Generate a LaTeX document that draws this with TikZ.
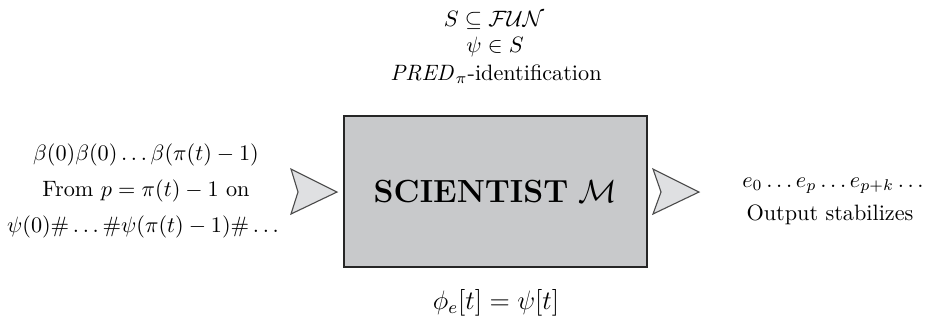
\documentclass[tikz,border=0pt]{standalone}
\usepackage{amssymb}
\begin{document}
\begin{tikzpicture}[x=0.45pt,y=-0.45pt,
  txt/.style={inner sep=0pt,anchor=center},
  arrowshape/.style={draw=black!70,fill=arrowgray,line width=0.5pt,line join=miter}]
\useasboundingbox (0,0) rectangle (930,323);
\definecolor{boxgray}{RGB}{200,201,203}
\definecolor{arrowgray}{RGB}{223,224,226}
% main box
\node[draw=black!85,fill=boxgray,line width=1pt,minimum width=303*0.45pt,minimum height=151*0.45pt,inner sep=0pt] (sci) at (495.5,191.5) {\fontsize{14.4}{17}\selectfont\textbf{SCIENTIST} $\mathcal{M}$};
% top text
\node[txt] (t1) at (494,20) {$S\subseteq\mathcal{FUN}$};
\node[txt] (t2) at (495,47) {$\psi\in S$};
\node[txt] (t3) at (496,74) {$\mathit{PRED}_\pi$-identification};
% left text
\node[txt] (l1) at (146,155) {$\beta(0)\beta(0)\ldots\beta(\pi(t)-1)$};
\node[txt] (l2) at (146,191) {From $p=\pi(t)-1$ on};
\node[txt] (l3) at (143,227) {$\psi(0)\#\ldots\#\psi(\pi(t)-1)\#\ldots$};
% right text
\node[txt] (r1) at (833,186) {$e_0\ldots e_p\ldots e_{p+k}\ldots$};
\node[txt] (r2) at (830,215) {Output stabilizes};
% bottom
\node[txt] (b1) at (496,303) {\large$\phi_e[t]=\psi[t]$};
% arrows
\coordinate (la) at (291,192);
\coordinate (ra) at (653,192);
\draw[arrowshape] (la) ++(0,-23) -- ++(46,23) -- ++(-46,22) -- ++(7,-22) -- cycle;
\draw[arrowshape] (ra) ++(0,-23) -- ++(46,23) -- ++(-46,22) -- ++(8,-22) -- cycle;
\end{tikzpicture}
\end{document}
